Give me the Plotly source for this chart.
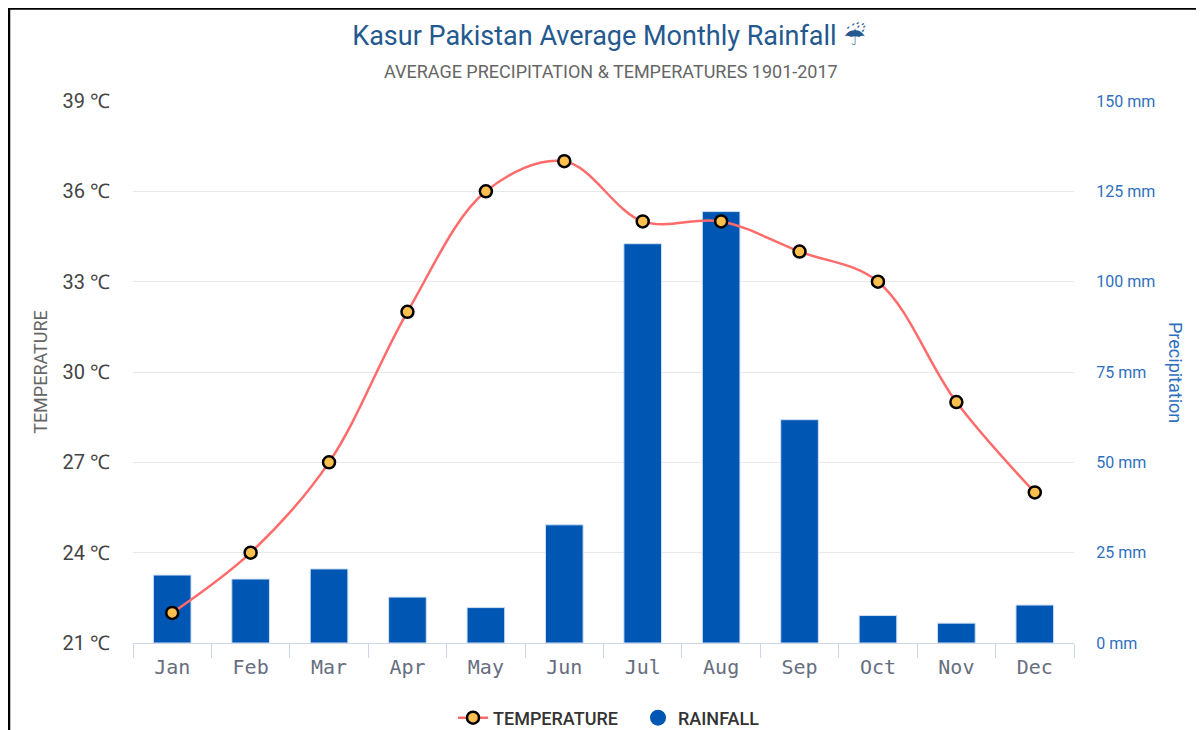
import plotly.graph_objects as go

months = ["Jan","Feb","Mar","Apr","May","Jun","Jul","Aug","Sep","Oct","Nov","Dec"]
temperature = [22,24,27,32,36,37,35,35,34,33,29,26]
rainfall = [18.8,17.7,20.5,12.7,9.8,32.7,110.5,119.4,61.8,7.6,5.5,10.5]
temp_ticks = [21,24,27,30,33,36,39]
rain_ticks = [0,25,50,75,100,125,150]

W, H = 1196, 722
L, R, T, B = 125, 130, 93, 87
PW, PH = W-L-R, H-T-B

fig = go.Figure()
fig.add_trace(go.Bar(x=months, y=rainfall, name="RAINFALL", yaxis="y", width=0.48,
                     marker=dict(color="#0056b3", line=dict(color="#cfe0f5", width=1)),
                     showlegend=False))
fig.add_trace(go.Scatter(x=months, y=temperature, name="TEMPERATURE", yaxis="y2", mode="lines+markers",
                         line=dict(color="#ff6b6b", width=2.5, shape="spline", smoothing=1.0),
                         marker=dict(size=12, color="#fdbf4d", line=dict(color="#000000", width=2.5)),
                         cliponaxis=False))
fig.add_trace(go.Scatter(x=[None], y=[None], name="RAINFALL", yaxis="y", mode="markers",
                         marker=dict(size=16, color="#0056b3")))

fig.update_layout(
    width=W, height=H, autosize=False,
    margin=dict(l=L, r=R, t=T, b=B, pad=0, autoexpand=False),
    paper_bgcolor="white", plot_bgcolor="white",
    font=dict(family="Roboto", color="#444444"),
    bargap=0.52,
    title=dict(text='Kasur Pakistan Average Monthly Rainfall <span style="font-family:\'DejaVu Sans\';font-size:25px">☔\ufe0e</span>',
               font=dict(family="Roboto", size=27, color="#24598f"),
               x=(609-8)/W, xanchor="center", y=1-(28)/H, yanchor="middle"),
    xaxis=dict(type="category", range=[-0.5,11.5], tickmode="array", tickvals=months, ticktext=months, automargin=False,
               tickson="boundaries", ticks="outside", ticklen=14, tickwidth=1, tickcolor="#ccd6eb",
               showline=True, linecolor="#ccd6eb", linewidth=1, showgrid=False, zeroline=False,
               ticklabelstandoff=6,
               tickfont=dict(family="DejaVu Sans Mono", size=20, color="#666e80")),
    yaxis=dict(side="right", range=[0,150], tickmode="array", tickvals=rain_ticks, automargin=False,
               ticktext=[f"{v} mm" for v in rain_ticks], ticks="outside", ticklen=18, tickcolor="rgba(0,0,0,0)",
               showline=False, zeroline=False,
               showgrid=True, gridcolor="#e9e9e9", gridwidth=1,
               tickfont=dict(family="Roboto", size=16, color="#2f6fbd")),
    yaxis2=dict(side="left", overlaying="y", range=[21,39], tickmode="array", tickvals=temp_ticks, automargin=False,
                ticktext=[f"{v} ℃" for v in temp_ticks], ticks="outside", ticklen=18, tickcolor="rgba(0,0,0,0)",
                showline=False, zeroline=False,
                showgrid=False,
                tickfont=dict(family="Roboto", size=20, color="#444444"),
                title=dict(text="TEMPERATURE", font=dict(family="Roboto", size=18, color="#666666"), standoff=10)),
    legend=dict(orientation="h", x=(453-8-L)/PW, xanchor="left", y=-(718-8-(H-B))/PH, yanchor="middle",
                font=dict(family="Roboto", size=18, color="#333333", weight=500),
                bgcolor="rgba(0,0,0,0)", itemwidth=30, traceorder="normal",
                entrywidth=140, entrywidthmode="pixels"),
    annotations=[dict(text="AVERAGE PRECIPITATION &amp; TEMPERATURES 1901-2017", showarrow=False,
                      xref="paper", yref="paper", x=(611-8-L)/PW, y=1+(T-(72-8))/PH, yanchor="middle",
                      font=dict(family="Roboto", size=18, color="#666666")),
                 dict(text="Precipitation", showarrow=False, textangle=90,
                      xref="paper", yref="paper", x=(1176-8-L)/PW, y=0.5, xanchor="center", yanchor="middle",
                      font=dict(family="Roboto", size=18, color="#2f6fbd"))],
    shapes=[dict(type="line", xref="paper", yref="paper", layer="above",
                 x0=(1-L)/PW, x1=(W-L)/PW, y0=1+(T-0.5)/PH, y1=1+(T-0.5)/PH, line=dict(color="#000000", width=2.5)),
            dict(type="line", xref="paper", yref="paper", layer="above",
                 x0=(1-L)/PW, x1=(1-L)/PW, y0=1+T/PH, y1=-B/PH, line=dict(color="#000000", width=2.5))],
)
fig.write_html("out.html")
